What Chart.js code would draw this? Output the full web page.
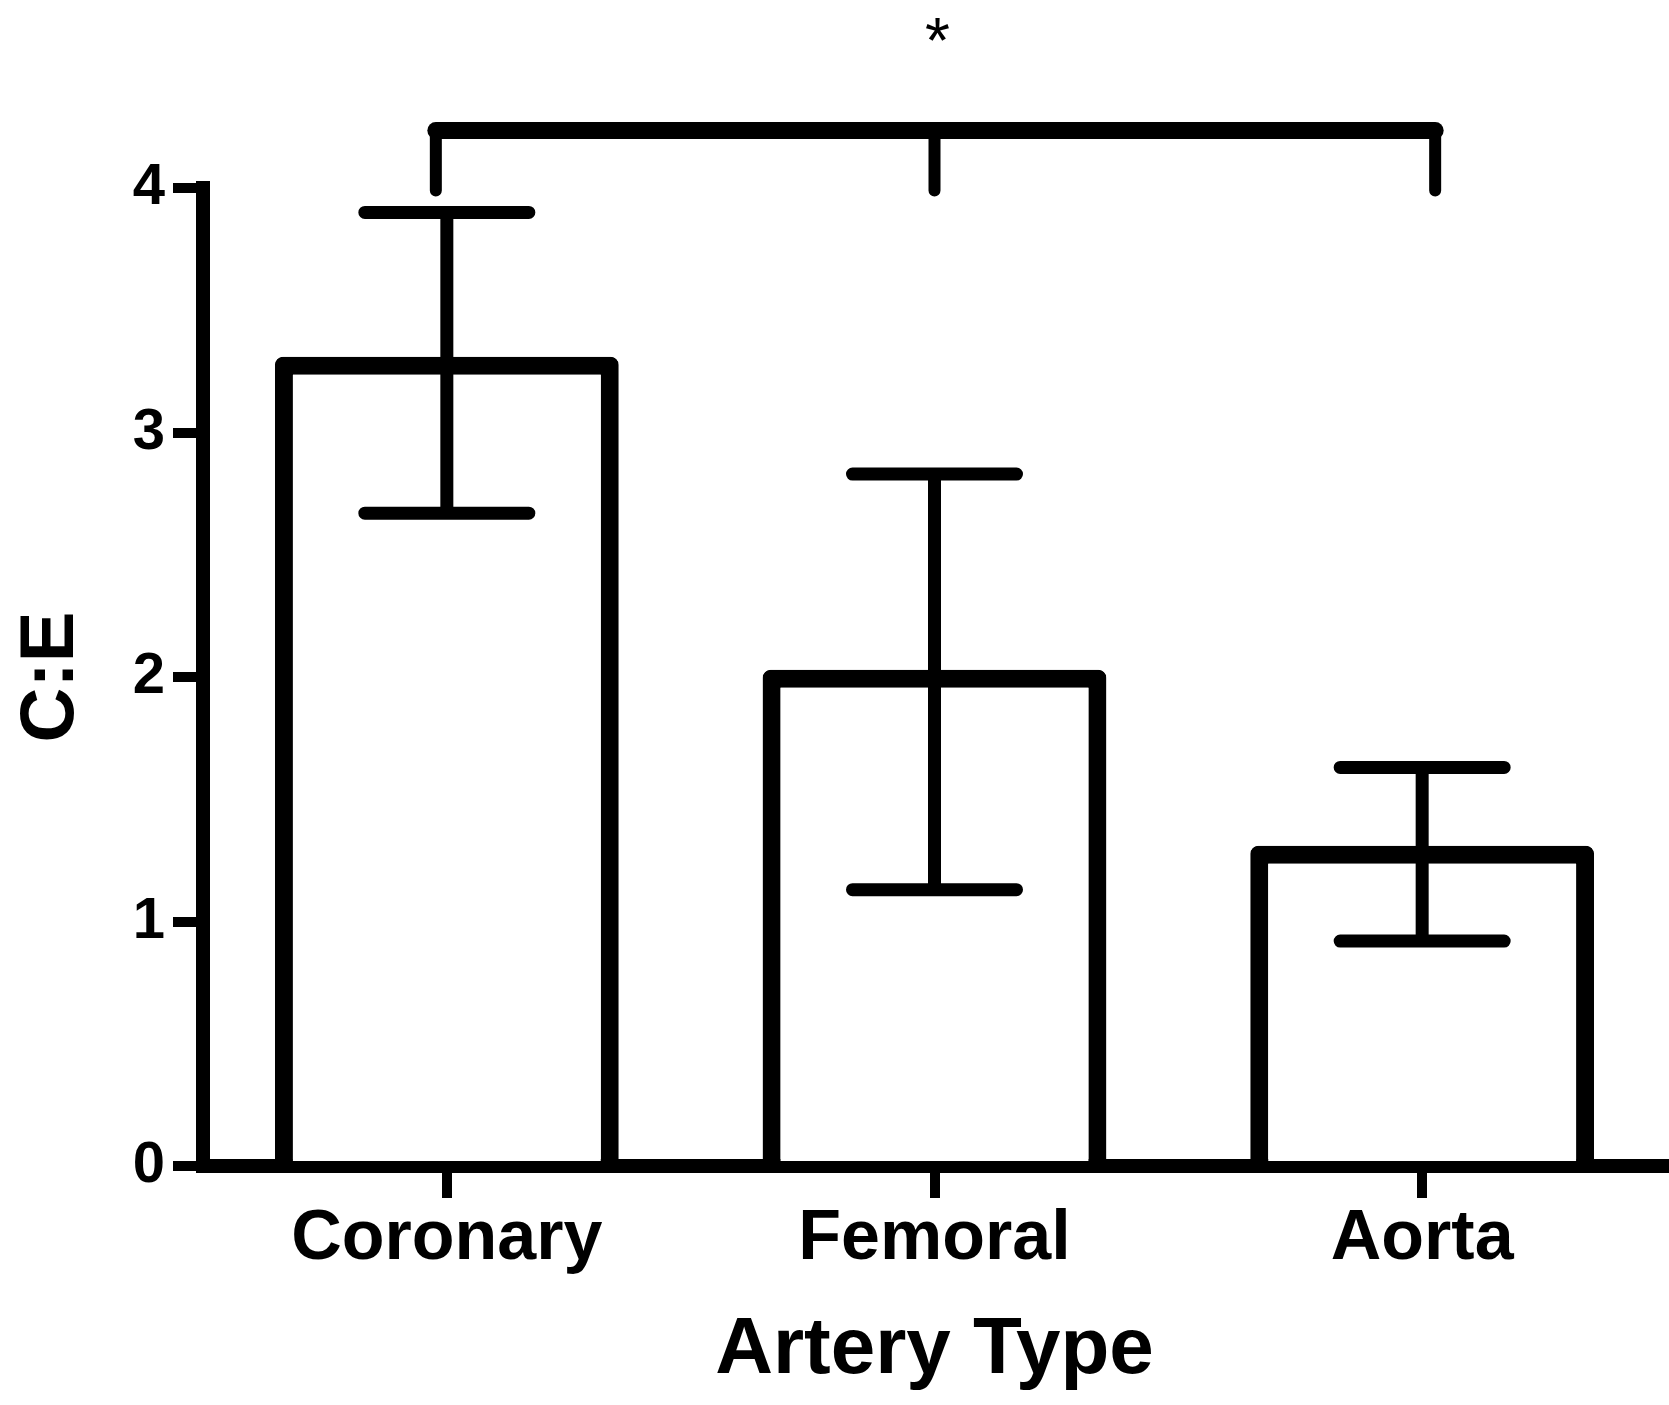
<!DOCTYPE html>
<html><head><meta charset="utf-8">
<script src="https://cdn.jsdelivr.net/npm/chart.js@4.4.1/dist/chart.umd.min.js"></script>
<style>html,body{margin:0;padding:0;background:#fff}#wrap{width:1669px;height:1405px;position:relative}</style>
</head><body><div id="wrap"><canvas id="c"></canvas></div>
<script>
// ---- data ----
const categories = ['Coronary', 'Femoral', 'Aorta'];
const meanValues = [3.31, 2.03, 1.31];
const errorUpper = [3.90, 2.83, 1.63];
const errorLower = [2.67, 1.13, 0.92];
const yTickValues = [0, 1, 2, 3, 4];
const xAxisTitle = 'Artery Type';
const yAxisTitle = 'C:E';
const sigLabel = '*';
const sigGroups = [0, 1, 2];

// ---- layout constants ----
const FONT = '"Liberation Sans", Arial, sans-serif';
const BRACKET_VALUE = 4.235, BRACKET_LEG_END = 3.99, STAR_VALUE = 4.66;

const errorBarPlugin = {
  id: 'errorBars',
  afterDatasetsDraw(chart) {
    const meta = chart.getDatasetMeta(0);
    const y = chart.scales.y;
    const ctx = chart.ctx;
    ctx.save();
    ctx.strokeStyle = '#000';
    meta.data.forEach((bar, i) => {
      const x = bar.x;
      const yt = y.getPixelForValue(errorUpper[i]);
      const yb = y.getPixelForValue(errorLower[i]);
      ctx.lineWidth = 13; ctx.lineCap = 'butt';
      ctx.beginPath(); ctx.moveTo(x, yt); ctx.lineTo(x, yb); ctx.stroke();
      ctx.lineCap = 'round';
      ctx.beginPath();
      ctx.moveTo(x - 82, yt); ctx.lineTo(x + 82, yt);
      ctx.moveTo(x - 82, yb); ctx.lineTo(x + 82, yb);
      ctx.stroke();
    });
    ctx.restore();
  }
};

const sigPlugin = {
  id: 'sigBracket',
  afterDraw(chart) {
    const xs = chart.scales.x, ys = chart.scales.y, ctx = chart.ctx;
    const top = ys.getPixelForValue(BRACKET_VALUE);
    const legEnd = ys.getPixelForValue(BRACKET_LEG_END);
    const xl = xs.getPixelForValue(sigGroups[0]) - 11;
    const xm = xs.getPixelForValue(sigGroups[1]);
    const xr = xs.getPixelForValue(sigGroups[2]) + 13;
    ctx.save();
    ctx.strokeStyle = '#000';
    ctx.lineCap = 'round'; ctx.lineJoin = 'round';
    ctx.lineWidth = 12;
    ctx.beginPath();
    ctx.moveTo(xl, top); ctx.lineTo(xl, legEnd);
    ctx.moveTo(xm, top); ctx.lineTo(xm, legEnd);
    ctx.moveTo(xr, top); ctx.lineTo(xr, legEnd);
    ctx.stroke();
    ctx.lineWidth = 17;
    ctx.beginPath(); ctx.moveTo(xl, top); ctx.lineTo(xr, top); ctx.stroke();
    ctx.fillStyle = '#000';
    ctx.font = '64px ' + FONT;
    ctx.textAlign = 'center'; ctx.textBaseline = 'alphabetic';
    ctx.fillText(sigLabel, xm + 3, ys.getPixelForValue(STAR_VALUE) + 36);
    ctx.restore();
  }
};

new Chart(document.getElementById('c'), {
  type: 'bar',
  data: {
    labels: categories,
    datasets: [{
      data: meanValues,
      backgroundColor: '#ffffff',
      borderColor: '#000000',
      borderWidth: 18,
      borderSkipped: 'bottom',
      borderRadius: 8,
      barPercentage: 0.705,
      categoryPercentage: 1.0
    }]
  },
  options: {
    responsive: true,
    maintainAspectRatio: false,
    animation: false,
    devicePixelRatio: 1,
    layout: { padding: { left: 0, top: 188, right: 3, bottom: 0 } },
    plugins: { legend: { display: false }, tooltip: { enabled: false }, title: { display: false } },
    scales: {
      x: {
        z: 1,
        offset: true,
        grid: { offset: false, drawOnChartArea: false, drawTicks: true, tickLength: 32, lineWidth: 10, color: '#000' },
        border: { display: true, width: 14, color: '#000' },
        ticks: { color: '#000', padding: 7, font: { family: FONT, size: 70, weight: 'bold', lineHeight: 1 } },
        title: { display: true, text: xAxisTitle, color: '#000', padding: { top: 0, bottom: 14 }, font: { family: FONT, size: 80, weight: 'bold', lineHeight: 1 } },
        afterFit(s) { s.height = 239; }
      },
      y: {
        min: 0, max: 4,
        afterBuildTicks(s) { s.ticks = yTickValues.map(v => ({ value: v })); },
        grid: { drawOnChartArea: false, drawTicks: true, tickLength: 30, lineWidth: 10, color: '#000' },
        border: { display: true, width: 14, color: '#000' },
        ticks: { color: '#000', padding: 8, font: { family: FONT, size: 58, weight: 'bold', lineHeight: 1 } },
        title: { display: true, text: yAxisTitle, color: '#000', padding: { top: 14, bottom: 0 }, font: { family: FONT, size: 76, weight: 'bold', lineHeight: 1 } },
        afterFit(s) { s.width = 203; }
      }
    }
  },
  plugins: [errorBarPlugin, sigPlugin]
});
</script>
</body></html>
